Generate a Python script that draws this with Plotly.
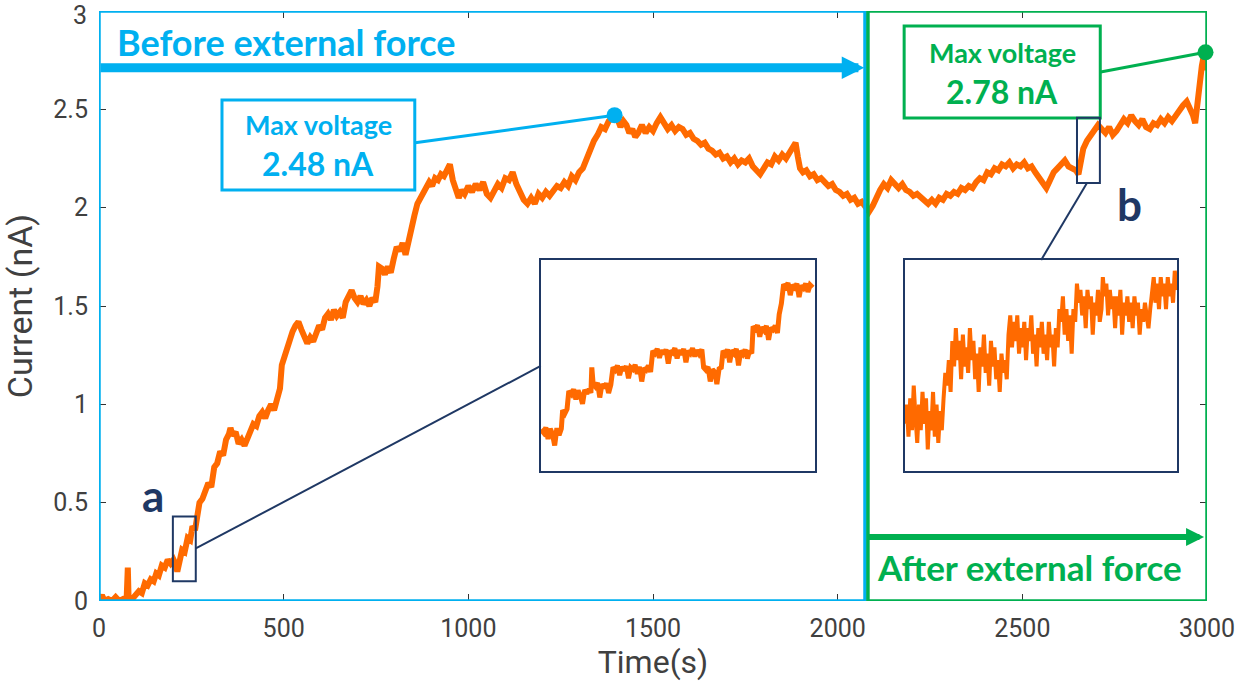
import plotly.graph_objects as go

# ---------------- data ----------------
time_s = [0, 8, 15, 25, 35, 45, 55, 65, 75, 78, 80, 90, 100, 108, 116, 124, 132, 140, 148, 155,
          162, 170, 178, 186, 194, 202, 207, 212, 218, 225, 232, 240, 247, 253, 260, 266, 272, 280, 288, 296,
          304, 312, 320, 328, 336, 344, 352, 356, 362, 370, 378, 386, 394, 402, 410, 418, 426, 434, 442, 450,
          458, 466, 474, 482, 490, 495, 500, 508, 516, 524, 532, 540, 548, 556, 564, 572, 580, 588, 596, 604,
          612, 620, 628, 636, 644, 652, 660, 668, 676, 684, 692, 700, 708, 716, 724, 732, 740, 748, 754, 758,
          766, 774, 782, 790, 798, 806, 814, 822, 830, 838, 846, 854, 862, 870, 878, 886, 894, 902, 910, 918,
          926, 934, 942, 950, 958, 966, 974, 982, 990, 1000, 1010, 1020, 1030, 1040, 1050, 1060, 1070, 1080, 1090, 1100,
          1110, 1120, 1130, 1140, 1150, 1160, 1170, 1180, 1190, 1200, 1210, 1220, 1230, 1240, 1250, 1260, 1270, 1280, 1290, 1300,
          1310, 1320, 1330, 1340, 1350, 1360, 1370, 1380, 1390, 1396, 1404, 1412, 1420, 1428, 1436, 1444, 1452, 1460, 1470, 1480,
          1490, 1500, 1510, 1520, 1530, 1540, 1550, 1560, 1570, 1580, 1590, 1600, 1610, 1620, 1630, 1640, 1650, 1660, 1670, 1680,
          1690, 1700, 1710, 1720, 1730, 1740, 1750, 1760, 1770, 1780, 1790, 1800, 1810, 1820, 1830, 1840, 1850, 1860, 1870, 1880,
          1886, 1892, 1898, 1906, 1915, 1925, 1935, 1945, 1955, 1965, 1975, 1985, 1995, 2005, 2015, 2025, 2035, 2045, 2055, 2065,
          2075, 2085, 2095, 2105, 2115, 2125, 2135, 2145, 2155, 2165, 2175, 2185, 2195, 2205, 2215, 2225, 2235, 2245, 2255, 2265,
          2275, 2285, 2295, 2305, 2315, 2325, 2335, 2345, 2355, 2365, 2375, 2385, 2395, 2405, 2415, 2425, 2435, 2445, 2455, 2465,
          2475, 2485, 2495, 2505, 2515, 2525, 2535, 2545, 2555, 2565, 2575, 2585, 2595, 2605, 2615, 2625, 2635, 2645, 2652, 2658,
          2665, 2675, 2685, 2695, 2705, 2715, 2725, 2735, 2745, 2755, 2765, 2775, 2785, 2795, 2805, 2815, 2825, 2835, 2845, 2855,
          2865, 2875, 2885, 2895, 2905, 2915, 2925, 2935, 2945, 2955, 2962, 2968, 2974, 2980, 2986, 2992, 2996, 3000]
current_nA = [0.00, 0.03, 0.00, 0.01, 0.00, 0.02, 0.00, 0.01, 0.02, 0.17, 0.02, 0.01, 0.03, 0.05, 0.04, 0.09, 0.08, 0.11, 0.10, 0.14,
              0.13, 0.18, 0.17, 0.21, 0.19, 0.21, 0.19, 0.15, 0.20, 0.26, 0.25, 0.32, 0.31, 0.38, 0.36, 0.44, 0.50, 0.52, 0.56, 0.60,
              0.58, 0.68, 0.70, 0.76, 0.74, 0.82, 0.85, 0.88, 0.84, 0.86, 0.80, 0.82, 0.79, 0.83, 0.86, 0.90, 0.89, 0.94, 0.96, 0.93,
              0.97, 1.00, 0.97, 1.02, 1.08, 1.20, 1.23, 1.28, 1.34, 1.37, 1.40, 1.42, 1.38, 1.35, 1.31, 1.34, 1.32, 1.36, 1.40, 1.38,
              1.44, 1.46, 1.43, 1.48, 1.45, 1.47, 1.44, 1.52, 1.55, 1.58, 1.54, 1.52, 1.55, 1.51, 1.53, 1.50, 1.54, 1.52, 1.60, 1.70,
              1.69, 1.66, 1.70, 1.67, 1.74, 1.80, 1.78, 1.82, 1.76, 1.84, 1.90, 1.96, 2.02, 2.05, 2.07, 2.10, 2.13, 2.11, 2.15, 2.14,
              2.17, 2.16, 2.20, 2.22, 2.14, 2.08, 2.05, 2.09, 2.07, 2.11, 2.08, 2.12, 2.09, 2.13, 2.07, 2.05, 2.09, 2.12, 2.10, 2.15,
              2.14, 2.18, 2.12, 2.07, 2.04, 2.02, 2.05, 2.02, 2.07, 2.05, 2.08, 2.06, 2.09, 2.11, 2.10, 2.13, 2.11, 2.16, 2.14, 2.18,
              2.20, 2.25, 2.30, 2.34, 2.37, 2.41, 2.40, 2.44, 2.46, 2.48, 2.45, 2.41, 2.44, 2.42, 2.38, 2.40, 2.36, 2.38, 2.42, 2.38,
              2.41, 2.39, 2.43, 2.46, 2.43, 2.40, 2.42, 2.39, 2.41, 2.40, 2.37, 2.38, 2.35, 2.34, 2.32, 2.33, 2.30, 2.29, 2.27, 2.28,
              2.25, 2.26, 2.23, 2.25, 2.22, 2.24, 2.23, 2.25, 2.21, 2.19, 2.17, 2.20, 2.23, 2.22, 2.26, 2.24, 2.27, 2.25, 2.28, 2.31,
              2.33, 2.26, 2.20, 2.18, 2.19, 2.16, 2.17, 2.14, 2.15, 2.13, 2.11, 2.12, 2.09, 2.08, 2.06, 2.07, 2.04, 2.05, 2.02, 2.03,
              2.00, 1.98, 2.01, 2.06, 2.09, 2.12, 2.10, 2.14, 2.12, 2.10, 2.12, 2.09, 2.08, 2.06, 2.07, 2.05, 2.03, 2.02, 2.04, 2.02,
              2.05, 2.04, 2.07, 2.06, 2.08, 2.07, 2.10, 2.09, 2.11, 2.10, 2.13, 2.15, 2.14, 2.18, 2.17, 2.20, 2.19, 2.22, 2.21, 2.23,
              2.20, 2.22, 2.21, 2.23, 2.20, 2.21, 2.18, 2.15, 2.12, 2.10, 2.14, 2.18, 2.20, 2.22, 2.24, 2.21, 2.20, 2.19, 2.17, 2.23,
              2.30, 2.34, 2.37, 2.40, 2.42, 2.40, 2.38, 2.41, 2.37, 2.39, 2.42, 2.45, 2.43, 2.47, 2.44, 2.42, 2.45, 2.41, 2.40, 2.43,
              2.42, 2.45, 2.43, 2.46, 2.44, 2.47, 2.50, 2.52, 2.54, 2.50, 2.47, 2.43, 2.55, 2.62, 2.72, 2.78, 2.70, 2.73]

# zoom window a (inset left)
zoom_a_time = [200.0, 200.6, 201.1, 201.6, 202.1, 202.6, 203.1, 203.6, 204.1, 204.6, 204.9, 205.4, 205.9, 206.3, 206.9, 207.4,
               207.9, 208.4, 208.9, 209.4, 209.9, 210.4, 210.9, 211.3, 211.5, 211.8, 212.3, 212.8, 213.3, 213.8, 214.3, 214.8,
               215.3, 215.8, 216.3, 216.8, 217.3, 217.8, 218.3, 218.8, 219.3, 219.8, 220.3, 220.8, 221.3, 221.8, 222.3, 222.8,
               223.3, 223.8, 224.3, 224.8, 225.3, 225.8, 226.3, 226.8, 227.3, 227.8, 228.3, 228.8, 229.3, 229.8, 230.3, 230.8,
               231.3, 231.8, 232.3, 232.8, 233.3, 233.8, 234.3, 234.8, 235.3, 235.8, 236.4, 236.8, 237.3, 237.8, 238.3, 238.8,
               239.3, 239.8, 240.3, 240.8, 241.2, 241.7, 242.2, 242.7, 243.2, 243.7, 244.2, 244.7, 245.2, 245.7, 246.2, 246.7,
               247.2, 247.7, 248.0, 248.5, 249.0, 249.5, 250.0, 250.5, 251.0, 251.5, 252.0, 252.5, 253.0, 253.5, 253.9, 254.4,
               254.9, 255.4, 255.9, 256.4, 256.9, 257.4, 257.9, 258.4, 258.9, 259.4, 259.9, 260.4, 260.9, 261.5]
zoom_a_current = [0.165, 0.160, 0.168, 0.150, 0.166, 0.158, 0.140, 0.167, 0.156, 0.166, 0.195, 0.190, 0.197, 0.225, 0.220, 0.228,
                  0.212, 0.226, 0.218, 0.205, 0.227, 0.221, 0.228, 0.222, 0.262, 0.236, 0.232, 0.238, 0.215, 0.236, 0.230, 0.237,
                  0.222, 0.235, 0.262, 0.258, 0.265, 0.250, 0.263, 0.257, 0.264, 0.245, 0.262, 0.259, 0.266, 0.252, 0.263, 0.240,
                  0.261, 0.258, 0.265, 0.255, 0.288, 0.284, 0.291, 0.277, 0.289, 0.283, 0.290, 0.268, 0.288, 0.285, 0.292, 0.276,
                  0.289, 0.282, 0.291, 0.270, 0.288, 0.284, 0.292, 0.279, 0.289, 0.283, 0.290, 0.262, 0.258, 0.263, 0.240, 0.259,
                  0.255, 0.236, 0.260, 0.262, 0.288, 0.283, 0.290, 0.270, 0.289, 0.284, 0.291, 0.265, 0.288, 0.283, 0.290, 0.276,
                  0.288, 0.284, 0.326, 0.322, 0.328, 0.310, 0.325, 0.320, 0.327, 0.305, 0.324, 0.321, 0.327, 0.316, 0.345, 0.362,
                  0.392, 0.388, 0.394, 0.375, 0.391, 0.387, 0.393, 0.372, 0.390, 0.386, 0.393, 0.380, 0.391, 0.387]

# zoom window b (inset right)
zoom_b_time = [2648.0, 2648.4, 2648.8, 2649.2, 2649.6, 2650.0, 2650.4, 2650.8, 2651.2, 2651.6, 2652.0, 2652.4, 2652.8, 2653.2,
               2653.6, 2654.0, 2654.4, 2654.8, 2655.2, 2655.6, 2656.0, 2656.4, 2656.8, 2657.2, 2657.6, 2658.0, 2658.4, 2658.8,
               2659.2, 2659.6, 2660.0, 2660.4, 2660.8, 2661.2, 2661.6, 2662.0, 2662.4, 2662.8, 2663.2, 2663.6, 2664.0, 2664.4,
               2664.8, 2665.2, 2665.6, 2666.0, 2666.4, 2666.8, 2667.2, 2667.6, 2668.0, 2668.4, 2668.8, 2669.2, 2669.6, 2670.0,
               2670.4, 2670.8, 2671.2, 2671.6, 2672.0, 2672.4, 2672.8, 2673.2, 2673.6, 2674.0, 2674.4, 2674.8, 2675.2, 2675.6,
               2676.0, 2676.4, 2676.8, 2677.2, 2677.6, 2678.0, 2678.4, 2678.8, 2679.2, 2679.6, 2680.0, 2680.4, 2680.8, 2681.2,
               2681.6, 2682.0, 2682.4, 2682.8, 2683.2, 2683.6, 2684.0, 2684.4, 2684.8, 2685.2, 2685.6, 2686.0, 2686.4, 2686.8,
               2687.2, 2687.6, 2688.0, 2688.4, 2688.8, 2689.2, 2689.6, 2690.0, 2690.4, 2690.8, 2691.2, 2691.6, 2692.0, 2692.4,
               2692.8, 2693.1, 2693.5, 2693.9, 2694.3, 2694.7, 2695.1, 2695.5, 2695.9, 2696.3, 2696.7, 2697.1, 2697.5, 2697.9,
               2698.3, 2698.7, 2699.1, 2699.5, 2699.9, 2700.3, 2700.7, 2701.1, 2701.5, 2701.9, 2702.3, 2702.7, 2703.1, 2703.5,
               2703.9, 2704.3, 2704.7, 2705.1, 2705.5, 2705.9, 2706.3, 2706.7, 2707.1, 2707.5, 2707.9, 2708.3, 2708.7, 2709.1,
               2709.5, 2710.0]
zoom_b_current = [2.20, 2.23, 2.18, 2.24, 2.19, 2.26, 2.21, 2.17, 2.23, 2.19, 2.25, 2.20, 2.24, 2.16,
                  2.22, 2.19, 2.25, 2.18, 2.23, 2.17, 2.22, 2.19, 2.24, 2.28, 2.26, 2.30, 2.25, 2.33,
                  2.29, 2.35, 2.30, 2.33, 2.27, 2.34, 2.29, 2.32, 2.28, 2.35, 2.30, 2.33, 2.27, 2.31,
                  2.25, 2.32, 2.29, 2.34, 2.28, 2.31, 2.26, 2.33, 2.29, 2.32, 2.27, 2.30, 2.25, 2.31,
                  2.28, 2.30, 2.27, 2.34, 2.37, 2.32, 2.36, 2.33, 2.37, 2.31, 2.35, 2.32, 2.36, 2.30,
                  2.35, 2.33, 2.37, 2.31, 2.34, 2.29, 2.35, 2.32, 2.36, 2.31, 2.34, 2.30, 2.36, 2.32,
                  2.34, 2.29, 2.35, 2.32, 2.38, 2.36, 2.40, 2.34, 2.38, 2.33, 2.37, 2.31, 2.38, 2.36,
                  2.42, 2.39, 2.41, 2.37, 2.40, 2.35, 2.41, 2.38, 2.40, 2.34, 2.39, 2.37, 2.41, 2.36,
                  2.38, 2.43, 2.40, 2.42, 2.37, 2.41, 2.38, 2.40, 2.35, 2.40, 2.37, 2.41, 2.34, 2.39,
                  2.37, 2.40, 2.36, 2.39, 2.35, 2.40, 2.37, 2.39, 2.34, 2.38, 2.36, 2.39, 2.37, 2.35,
                  2.38, 2.41, 2.43, 2.39, 2.42, 2.38, 2.43, 2.40, 2.42, 2.38, 2.43, 2.40, 2.42, 2.39,
                  2.44, 2.41]

zoom_a_xrange = [200, 262]
zoom_a_yrange = [0.10, 0.43]
zoom_b_xrange = [2648, 2710]
zoom_b_yrange = [2.126, 2.457]

max_before_time = [1396]
max_before_current = [2.47]
max_after_time = [2996]
max_after_current = [2.79]

x_ticks = [0, 500, 1000, 1500, 2000, 2500, 3000]
y_ticks = [0, 0.5, 1, 1.5, 2, 2.5, 3]
y_tick_labels = ["0", "0.5", "1", "1.5", "2", "2.5", "3"]
force_time = 2078  # moment external force was applied

# ---------------- styles ----------------
ORANGE = "#FF6A00"
CYAN = "#00B0F0"
GREEN = "#00B050"
NAVY = "#1F3864"
GRAY = "#404040"
TXT_FONT = "Lato, Carlito, Calibri, 'Open Sans', sans-serif"
AX_FONT = "Roboto, 'Liberation Sans', Arial, sans-serif"

fig = go.Figure()

fig.add_trace(go.Scatter(x=time_s, y=current_nA, mode="lines",
                         line=dict(color=ORANGE, width=6), hoverinfo="skip", showlegend=False))
fig.add_trace(go.Scatter(x=zoom_a_time, y=zoom_a_current, mode="lines", xaxis="x2", yaxis="y2",
                         line=dict(color=ORANGE, width=5), showlegend=False))
fig.add_trace(go.Scatter(x=zoom_b_time, y=zoom_b_current, mode="lines", xaxis="x3", yaxis="y3",
                         line=dict(color=ORANGE, width=4), showlegend=False))

# boxes for max values
fig.add_shape(type="rect", x0=333, x1=855, y0=2.090, y1=2.547,
              line=dict(color=CYAN, width=3), fillcolor="white", layer="above")
fig.add_shape(type="rect", x0=2180, x1=2711, y0=2.456, y1=2.924,
              line=dict(color=GREEN, width=3), fillcolor="white", layer="above")

# connector lines to max markers
fig.add_shape(type="line", x0=856, y0=2.33, x1=max_before_time[0], y1=max_before_current[0],
              line=dict(color=CYAN, width=3), layer="above")
fig.add_shape(type="line", x0=2712, y0=2.69, x1=max_after_time[0], y1=max_after_current[0],
              line=dict(color=GREEN, width=3), layer="above")

fig.add_trace(go.Scatter(x=max_before_time, y=max_before_current, mode="markers",
                         marker=dict(color=CYAN, size=16), showlegend=False))
fig.add_trace(go.Scatter(x=max_after_time, y=max_after_current, mode="markers",
                         marker=dict(color=GREEN, size=16), showlegend=False, cliponaxis=False))

# region frames
fig.add_shape(type="rect", x0=0, x1=force_time - 4, y0=0, y1=3,
              line=dict(color=CYAN, width=3.5), layer="above")
fig.add_shape(type="rect", x0=force_time + 4, x1=3000, y0=0, y1=3,
              line=dict(color=GREEN, width=3.5), layer="above")

# zoom rectangles
fig.add_shape(type="rect", x0=zoom_a_xrange[0], x1=zoom_a_xrange[1], y0=zoom_a_yrange[0], y1=zoom_a_yrange[1],
              line=dict(color=NAVY, width=2), layer="above")
fig.add_shape(type="rect", x0=zoom_b_xrange[0], x1=zoom_b_xrange[1], y0=zoom_b_yrange[0], y1=zoom_b_yrange[1],
              line=dict(color=NAVY, width=2), layer="above")
# connectors to insets
fig.add_shape(type="line", x0=zoom_a_xrange[1], y0=0.267, x1=1196, y1=1.195,
              line=dict(color=NAVY, width=2), layer="above")
fig.add_shape(type="line", x0=2675, y0=zoom_b_yrange[0], x1=2551, y1=1.734,
              line=dict(color=NAVY, width=2), layer="above")

annotations = [
    # top y tick label, nudged down so it stays inside the page
    dict(x=0, y=y_ticks[-1], xref="paper", yref="y", xanchor="right", yanchor="middle",
         xshift=-10, yshift=-4, showarrow=False, text=y_tick_labels[-1],
         font=dict(family=AX_FONT, size=25, color=GRAY)),
    # arrows
    dict(x=2072, y=2.711, ax=0, ay=2.711, xref="x", yref="y", axref="x", ayref="y", text="",
         showarrow=True, arrowhead=2, arrowwidth=9, arrowsize=0.5, arrowcolor=CYAN),
    dict(x=2992, y=0.325, ax=2080, ay=0.325, xref="x", yref="y", axref="x", ayref="y", text="",
         showarrow=True, arrowhead=2, arrowwidth=6, arrowsize=0.6, arrowcolor=GREEN),
    dict(x=43, y=2.843, xref="x", yref="y", xanchor="left", yanchor="middle", showarrow=False,
         text="<b>Before external force</b>", font=dict(family=TXT_FONT, size=36, color=CYAN)),
    dict(x=2102, y=0.173, xref="x", yref="y", xanchor="left", yanchor="middle", showarrow=False,
         text="<b>After external force</b>", font=dict(family=TXT_FONT, size=35, color=GREEN)),
    # max boxes text
    dict(x=594, y=2.425, xref="x", yref="y", showarrow=False, text="<b>Max voltage</b>",
         font=dict(family=TXT_FONT, size=27, color=CYAN)),
    dict(x=594, y=2.225, xref="x", yref="y", showarrow=False, text="<b>2.48 nA</b>",
         font=dict(family=TXT_FONT, size=32, color=CYAN)),
    dict(x=2445, y=2.787, xref="x", yref="y", showarrow=False, text="<b>Max voltage</b>",
         font=dict(family=TXT_FONT, size=27, color=GREEN)),
    dict(x=2445, y=2.589, xref="x", yref="y", showarrow=False, text="<b>2.78 nA</b>",
         font=dict(family=TXT_FONT, size=32, color=GREEN)),
    # a / b labels
    dict(x=146, y=0.54, xref="x", yref="y", showarrow=False, text="<b>a</b>",
         font=dict(family=TXT_FONT, size=44, color=NAVY)),
    dict(x=2789, y=2.02, xref="x", yref="y", showarrow=False, text="<b>b</b>",
         font=dict(family=TXT_FONT, size=44, color=NAVY)),
]

inset_axis = dict(showline=True, mirror=True, linecolor=NAVY, linewidth=2, showticklabels=False,
                  ticks="", showgrid=False, zeroline=False)

fig.update_layout(
    width=1257, height=692,
    margin=dict(l=99, r=50, t=11, b=91),
    plot_bgcolor="white", paper_bgcolor="white",
    showlegend=False,
    xaxis=dict(range=[0, 3000], tickvals=x_ticks, ticktext=[str(v) for v in x_ticks],
               ticks="inside", ticklen=7, tickcolor="#333333", mirror="ticks", showline=False,
               showgrid=False, zeroline=False, ticklabeloverflow="allow", automargin=False,
               tickfont=dict(family=AX_FONT, size=25, color=GRAY), ticklabelstandoff=10,
               title=dict(text="Time(s)", font=dict(family=AX_FONT, size=32, color=GRAY), standoff=4)),
    yaxis=dict(range=[0, 3], tickvals=y_ticks, ticktext=y_tick_labels[:-1] + [""],
               ticks="inside", ticklen=7, tickcolor="#333333", mirror="ticks", showline=False,
               showgrid=False, zeroline=False, ticklabeloverflow="allow", automargin=False,
               tickfont=dict(family=AX_FONT, size=25, color=GRAY), ticklabelstandoff=10,
               title=dict(text="Current (nA)", font=dict(family=AX_FONT, size=34, color=GRAY), standoff=12)),
    xaxis2=dict(domain=[0.3989, 0.6462], range=zoom_a_xrange, anchor="y2", **inset_axis),
    yaxis2=dict(domain=[0.2203, 0.578], range=zoom_a_yrange, anchor="x2", **inset_axis),
    xaxis3=dict(domain=[0.7274, 0.9729], range=zoom_b_xrange, anchor="y3", **inset_axis),
    yaxis3=dict(domain=[0.2203, 0.578], range=zoom_b_yrange, anchor="x3", **inset_axis),
    annotations=annotations,
)

fig.write_html("out.html")
